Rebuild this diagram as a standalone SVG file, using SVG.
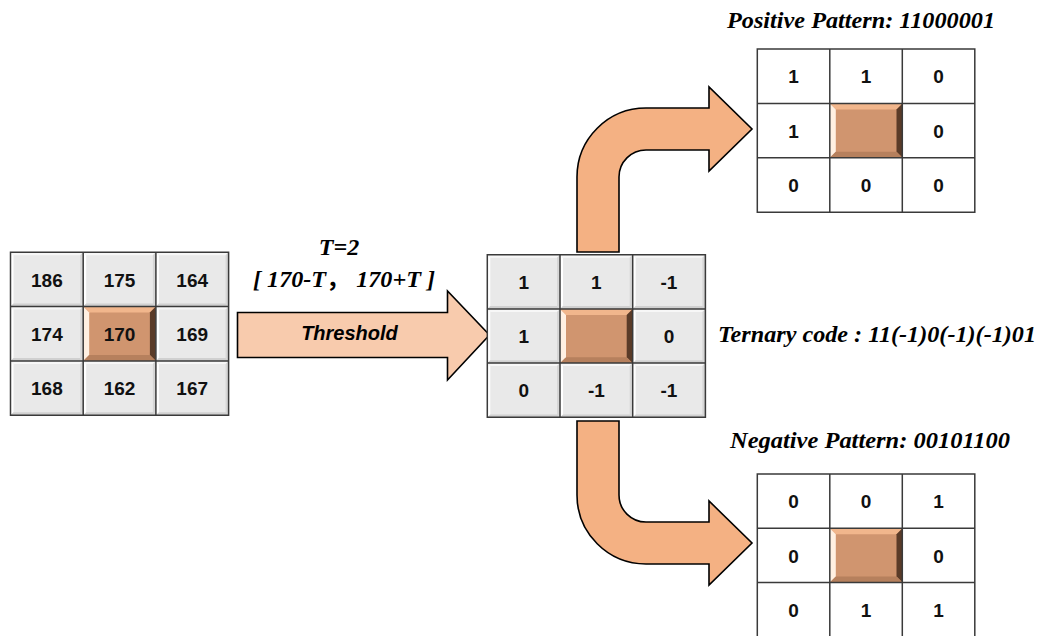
<svg xmlns="http://www.w3.org/2000/svg" xmlns:xlink="http://www.w3.org/1999/xlink" width="1044" height="636" viewBox="0 0 1044 636">
<style>
.num{font-family:"Liberation Sans",Arial,sans-serif;font-weight:bold;font-size:19px;fill:#111;text-anchor:middle}
.lbl{font-family:"Liberation Serif","Times New Roman",serif;font-weight:bold;font-style:italic;font-size:24px;fill:#000}
.cjk{font-family:"Noto Sans CJK SC",sans-serif;font-style:normal}
.thr{font-family:"Liberation Sans",Arial,sans-serif;font-weight:bold;font-style:italic;font-size:20px;fill:#000;text-anchor:middle}
.grid{stroke:#3a3a3a;stroke-width:1.5;fill:none}
.arrow{fill:#f4b183;stroke:#000;stroke-width:1.6;stroke-linejoin:miter}
</style>
<defs>
<g id="gcell">
<rect width="72.7" height="54.3" fill="#e9e9e9"/>
<polygon points="0,0 72.7,0 69.7,3 3,3" fill="#f7f7f7"/>
<polygon points="0,0 3,3 3,51.3 0,54.3" fill="#ffffff"/>
<polygon points="72.7,0 72.7,54.3 69.7,51.3 69.7,3" fill="#d6d6d6"/>
<polygon points="0,54.3 72.7,54.3 69.7,51.3 3,51.3" fill="#d0d0d0"/>
</g>
<g id="ccell">
<rect width="72.7" height="54.3" fill="#d0956f"/>
<polygon points="0,0 72.7,0 66.7,6 6,6" fill="#f1b68c"/>
<polygon points="0,0 6,6 6,48.3 0,54.3" fill="#fff0e2"/>
<polygon points="72.7,0 72.7,54.3 66.7,48.3 66.7,6" fill="#5a3b28"/>
<polygon points="0,54.3 72.7,54.3 66.7,48.3 6,48.3" fill="#b6805d"/>
</g>
</defs>

<g id="connectors">
<path class="arrow" d="M237.5,312.5 L447.5,312.5 L447.5,291 L489.5,335 L447.5,380 L447.5,357.5 L237.5,357.5 Z" style="fill:#f8cbad"/>
<path class="arrow" d="M577,252 L577,177 A69,69 0 0 1 646,108 L709,108 L709,87 L752,129 L709,171 L709,150 L646,150 A27,27 0 0 0 619,177 L619,252 Z"/>
<path class="arrow" d="M577,421 L577,495 A69,69 0 0 0 646,564 L709,564 L709,585 L752,543 L709,501 L709,522 L646,522 A27,27 0 0 1 619,495 L619,421 Z"/>
</g>

<g id="threshold-label">
<text class="lbl" x="339" y="255" text-anchor="middle">T=2</text>
<text class="lbl" x="253" y="287" textLength="182" lengthAdjust="spacingAndGlyphs">[ 170-T<tspan class="cjk">，</tspan> 170+T  ]</text>
<text class="thr" x="349.5" y="340">Threshold</text>
</g>

<g id="input-grid">
<use xlink:href="#gcell" x="10.5" y="252.3"/>
<use xlink:href="#gcell" x="83.2" y="252.3"/>
<use xlink:href="#gcell" x="155.9" y="252.3"/>
<use xlink:href="#gcell" x="10.5" y="306.6"/>
<use xlink:href="#ccell" x="83.2" y="306.6"/>
<use xlink:href="#gcell" x="155.9" y="306.6"/>
<use xlink:href="#gcell" x="10.5" y="360.9"/>
<use xlink:href="#gcell" x="83.2" y="360.9"/>
<use xlink:href="#gcell" x="155.9" y="360.9"/>
<path class="grid" d="M10.5,252.3H228.6V415.2H10.5Z M83.2,252.3V415.2 M155.9,252.3V415.2 M10.5,306.6H228.6 M10.5,360.9H228.6"/>
<text class="num" x="46.9" y="286.5">186</text>
<text class="num" x="119.5" y="286.5">175</text>
<text class="num" x="192.2" y="286.5">164</text>
<text class="num" x="46.9" y="340.8">174</text>
<text class="num" x="119.5" y="340.8">170</text>
<text class="num" x="192.2" y="340.8">169</text>
<text class="num" x="46.9" y="395.1">168</text>
<text class="num" x="119.5" y="395.1">162</text>
<text class="num" x="192.2" y="395.1">167</text>
</g>

<g id="ternary-grid">
<use xlink:href="#gcell" x="487.3" y="254.7"/>
<use xlink:href="#gcell" x="560" y="254.7"/>
<use xlink:href="#gcell" x="632.7" y="254.7"/>
<use xlink:href="#gcell" x="487.3" y="308.9"/>
<use xlink:href="#ccell" x="560" y="308.9"/>
<use xlink:href="#gcell" x="632.7" y="308.9"/>
<use xlink:href="#gcell" x="487.3" y="363.1"/>
<use xlink:href="#gcell" x="560" y="363.1"/>
<use xlink:href="#gcell" x="632.7" y="363.1"/>
<path class="grid" d="M487.3,254.7H705.4V417.3H487.3Z M560,254.7V417.3 M632.7,254.7V417.3 M487.3,308.9H705.4 M487.3,363.1H705.4"/>
<text class="num" x="523.7" y="288.8">1</text>
<text class="num" x="596.4" y="288.8">1</text>
<text class="num" x="669" y="288.8">-1</text>
<text class="num" x="523.7" y="343">1</text>
<text class="num" x="669" y="343">0</text>
<text class="num" x="523.7" y="397.2">0</text>
<text class="num" x="596.4" y="397.2">-1</text>
<text class="num" x="669" y="397.2">-1</text>
<text class="lbl" x="718" y="342" textLength="318" lengthAdjust="spacingAndGlyphs">Ternary code : 11(-1)0(-1)(-1)01</text>
</g>

<g id="positive-grid">
<text class="lbl" x="727" y="28" textLength="268" lengthAdjust="spacingAndGlyphs">Positive Pattern: 11000001</text>
<rect x="757.3" y="49" width="217.5" height="163.2" fill="#fff"/>
<use xlink:href="#ccell" x="829.8" y="103.4"/>
<path class="grid" d="M757.3,49H974.8V212.2H757.3Z M829.8,49V212.2 M902.3,49V212.2 M757.3,103.4H974.8 M757.3,157.8H974.8"/>
<text class="num" x="793.6" y="83.2">1</text>
<text class="num" x="866" y="83.2">1</text>
<text class="num" x="938.5" y="83.2">0</text>
<text class="num" x="793.6" y="137.6">1</text>
<text class="num" x="938.5" y="137.6">0</text>
<text class="num" x="793.6" y="192">0</text>
<text class="num" x="866" y="192">0</text>
<text class="num" x="938.5" y="192">0</text>
</g>

<g id="negative-grid">
<text class="lbl" x="730" y="448" textLength="280" lengthAdjust="spacingAndGlyphs">Negative Pattern: 00101100</text>
<rect x="757.3" y="474" width="217.5" height="163" fill="#fff"/>
<use xlink:href="#ccell" x="829.8" y="528.3"/>
<path class="grid" d="M757.3,474H974.8V637H757.3Z M829.8,474V637 M902.3,474V637 M757.3,528.3H974.8 M757.3,582.6H974.8"/>
<text class="num" x="793.6" y="508.2">0</text>
<text class="num" x="866" y="508.2">0</text>
<text class="num" x="938.5" y="508.2">1</text>
<text class="num" x="793.6" y="562.5">0</text>
<text class="num" x="938.5" y="562.5">0</text>
<text class="num" x="793.6" y="616.8">0</text>
<text class="num" x="866" y="616.8">1</text>
<text class="num" x="938.5" y="616.8">1</text>
</g>
</svg>
